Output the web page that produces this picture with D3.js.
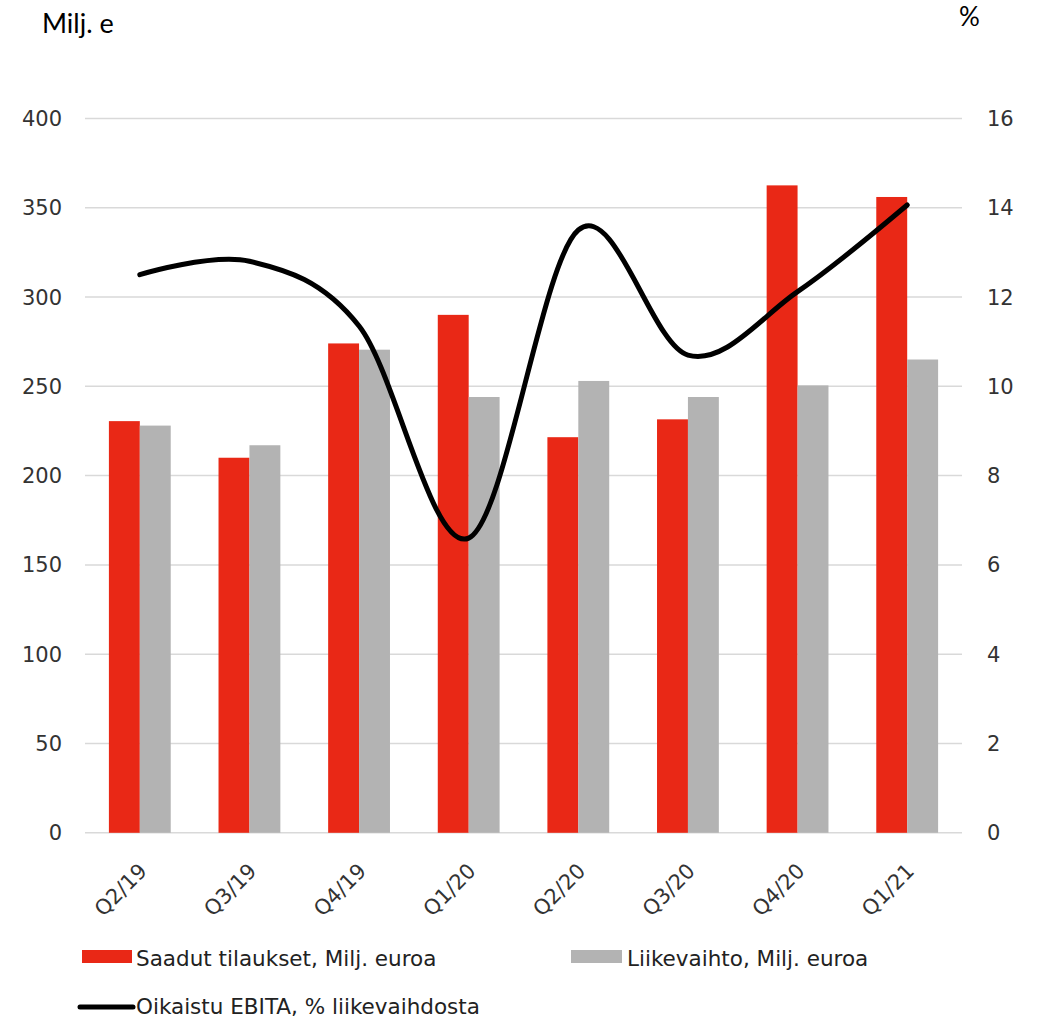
<!DOCTYPE html>
<html lang="fi">
<head>
<meta charset="UTF-8">
<title>Tilaukset, liikevaihto ja EBITA</title>
<style>
  body { margin: 0; background: #fff; }
  svg text { font-family: "DejaVu Sans", Verdana, sans-serif; }
</style>
</head>
<body>
<div id="chart"></div>
<script src="https://d3js.org/d3.v7.min.js"></script>
<script>
// data
var quarters = ["Q2/19", "Q3/19", "Q4/19", "Q1/20", "Q2/20", "Q3/20", "Q4/20", "Q1/21"];
var orders = [230.5, 210, 274, 290, 221.5, 231.5, 362.5, 356];
var revenue = [228, 217, 270.5, 244, 253, 244, 250.5, 265];
var ebitaPct = [12.5, 12.8, 11.35, 6.6, 13.5, 10.7, 12.12, 14.06];
var leftTicks = [0, 50, 100, 150, 200, 250, 300, 350, 400];
var rightTicks = [0, 2, 4, 6, 8, 10, 12, 14, 16];
var seriesNames = ["Saadut tilaukset, Milj. euroa", "Liikevaihto, Milj. euroa", "Oikaistu EBITA, % liikevaihdosta"];

var width = 1040, height = 1021;
var red = "#e92816", grey = "#b3b3b3";

var svg = d3.select("#chart").append("svg")
    .attr("width", width)
    .attr("height", height);

var x = d3.scaleBand()
    .domain(quarters)
    .range([85, 962])
    .paddingInner(0.436)
    .paddingOuter(0.218);

var xs = d3.scaleBand()
    .domain(["orders", "revenue"])
    .range([0, x.bandwidth()]);

var yL = d3.scaleLinear().domain([0, 400]).range([832.8, 118.4]);
var yR = d3.scaleLinear().domain([0, 16]).range([832.8, 118.4]);

// gridlines
svg.append("g").selectAll("line")
    .data(leftTicks)
    .enter().append("line")
    .attr("x1", 85).attr("x2", 962)
    .attr("y1", d => yL(d)).attr("y2", d => yL(d))
    .style("stroke", "#d9d9d9")
    .style("stroke-width", 1.5);

// left axis labels
svg.append("g").selectAll("text")
    .data(leftTicks)
    .enter().append("text")
    .attr("x", 62)
    .attr("y", d => yL(d))
    .attr("dy", "0.36em")
    .attr("text-anchor", "end")
    .style("font-size", "21px")
    .style("fill", "#333")
    .text(d => d);

// right axis labels
svg.append("g").selectAll("text")
    .data(rightTicks)
    .enter().append("text")
    .attr("x", 987)
    .attr("y", d => yR(d))
    .attr("dy", "0.36em")
    .style("font-size", "21px")
    .style("fill", "#333")
    .text(d => d);

// bars
var groups = svg.append("g").selectAll("g")
    .data(quarters)
    .enter().append("g")
    .attr("transform", d => "translate(" + x(d) + ",0)");

groups.append("rect")
    .attr("x", xs("orders"))
    .attr("width", xs.bandwidth())
    .attr("y", (d, i) => yL(orders[i]))
    .attr("height", (d, i) => yL(0) - yL(orders[i]))
    .style("fill", red);

groups.append("rect")
    .attr("x", xs("revenue"))
    .attr("width", xs.bandwidth())
    .attr("y", (d, i) => yL(revenue[i]))
    .attr("height", (d, i) => yL(0) - yL(revenue[i]))
    .style("fill", grey);

// EBITA line (smoothed like the spreadsheet)
var line = d3.line()
    .x((d, i) => x(quarters[i]) + x.bandwidth() / 2)
    .y(d => yR(d))
    .curve(d3.curveCatmullRom.alpha(0));

svg.append("path")
    .datum(ebitaPct)
    .attr("d", line)
    .style("fill", "none")
    .style("stroke", "#000")
    .style("stroke-width", 5)
    .style("stroke-linecap", "round");

// category labels
svg.append("g").selectAll("text")
    .data(quarters)
    .enter().append("text")
    .attr("transform", d => "translate(" + (x(d) + x.bandwidth() / 2 + 3) + ",867) rotate(-45)")
    .attr("dy", "0.36em")
    .attr("text-anchor", "end")
    .style("font-size", "21px")
    .style("fill", "#333")
    .text(d => d);

// axis titles
svg.append("text")
    .attr("x", 42).attr("y", 33)
    .style("font-family", "Lato, sans-serif")
    .style("font-size", "27px")
    .style("fill", "#000")
    .text("Milj. e");

svg.append("text")
    .attr("x", 959).attr("y", 26)
    .style("font-family", "Lato, sans-serif")
    .style("font-size", "26px")
    .style("fill", "#000")
    .text("%");

// legend
var legend = svg.append("g");
legend.append("rect")
    .attr("x", 82).attr("y", 950).attr("width", 50).attr("height", 13)
    .style("fill", red);
legend.append("text")
    .attr("x", 136).attr("y", 966)
    .style("font-size", "21.5px").style("fill", "#222")
    .text(seriesNames[0]);

legend.append("rect")
    .attr("x", 571).attr("y", 950).attr("width", 51).attr("height", 13)
    .style("fill", grey);
legend.append("text")
    .attr("x", 627).attr("y", 966)
    .style("font-size", "21.5px").style("fill", "#222")
    .text(seriesNames[1]);

legend.append("line")
    .attr("x1", 80).attr("x2", 133)
    .attr("y1", 1007).attr("y2", 1007)
    .style("stroke", "#000")
    .style("stroke-width", 5)
    .style("stroke-linecap", "round");
legend.append("text")
    .attr("x", 136).attr("y", 1014)
    .style("font-size", "21.5px").style("fill", "#222")
    .text(seriesNames[2]);
</script>
</body>
</html>
